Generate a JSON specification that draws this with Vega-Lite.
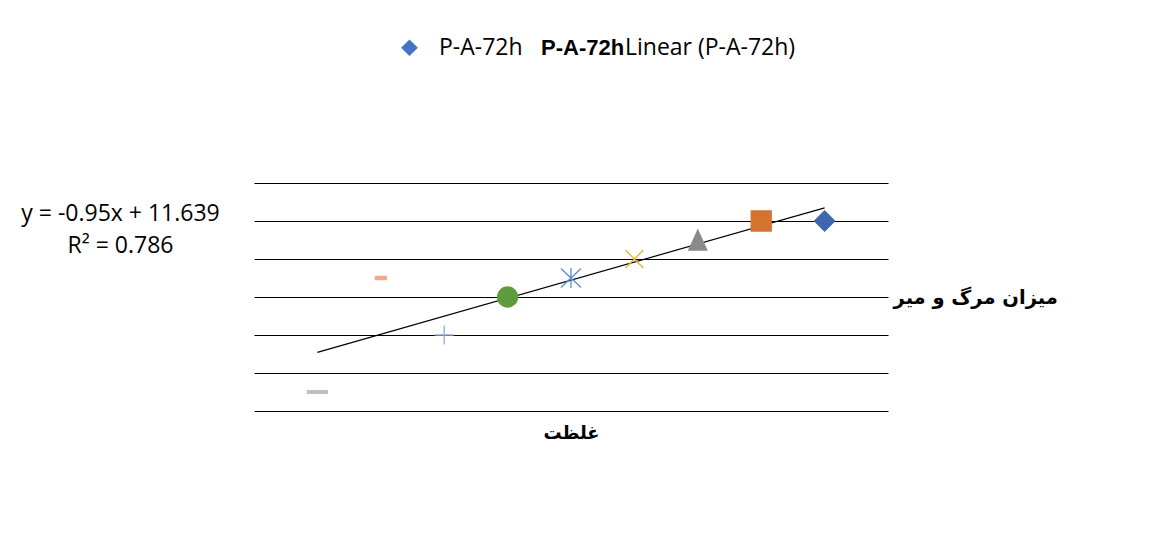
{
  "$schema": "https://vega.github.io/schema/vega-lite/v6.json",
  "width": 634,
  "height": 228,
  "autosize": "none",
  "padding": {"left": 254, "top": 183, "right": 264, "bottom": 135},
  "background": "white",
  "config": {"view": {"stroke": null}},
  "datasets": {
    "pts": [
      {"x": 9, "y": 1, "m": "dash_gray"},
      {"x": 8, "y": 7, "m": "dash_salmon"},
      {"x": 7, "y": 4, "m": "plus"},
      {"x": 6, "y": 6, "m": "circle"},
      {"x": 5, "y": 7, "m": "asterisk"},
      {"x": 4, "y": 8, "m": "cross_x"},
      {"x": 3, "y": 9, "m": "triangle"},
      {"x": 2, "y": 10, "m": "square"},
      {"x": 1, "y": 10, "m": "diamond"}
    ],
    "leg": [{"k": "a"}, {"k": "b"}, {"k": "c"}]
  },
  "layer": [
    {
      "data": {"name": "pts"},
      "transform": [{"regression": "y", "on": "x"}],
      "mark": {"type": "line", "color": "black", "strokeWidth": 1.2},
      "encoding": {
        "x": {"field": "x", "type": "quantitative", "scale": {"domain": [0, 10], "reverse": true, "nice": false, "zero": false},
          "axis": {"labels": false, "ticks": false, "domain": false, "grid": false, "title": "غلظت", "titleFont": "DejaVu Sans", "titleFontWeight": "bold", "titleFontSize": 18, "titleColor": "black", "titleBaseline": "middle", "titleY": 22}},
        "y": {"field": "y", "type": "quantitative", "scale": {"domain": [0, 12], "nice": false, "zero": false},
          "axis": {"orient": "right", "labels": false, "ticks": false, "domain": false, "grid": true, "values": [0, 2, 4, 6, 8, 10, 12], "gridColor": "black", "gridWidth": 1, "gridOpacity": 1,
            "title": "میزان مرگ و میر", "titleFont": "DejaVu Sans", "titleFontWeight": "bold", "titleFontSize": 19.5, "titleColor": "black", "titleAngle": 0, "titleAlign": "left", "titleBaseline": "middle", "titleX": 5, "titleY": 114}}
      }
    },
    {
      "data": {"name": "pts"},
      "mark": {"type": "point", "filled": true, "opacity": 1, "strokeWidth": 1.3, "size": 400},
      "encoding": {
        "x": {"field": "x", "type": "quantitative", "scale": {"domain": [0, 10], "reverse": true, "nice": false, "zero": false},
          "axis": {"labels": false, "ticks": false, "domain": false, "grid": false, "title": "غلظت", "titleFont": "DejaVu Sans", "titleFontWeight": "bold", "titleFontSize": 18, "titleColor": "black", "titleBaseline": "middle", "titleY": 22}},
        "y": {"field": "y", "type": "quantitative", "scale": {"domain": [0, 12], "nice": false, "zero": false},
          "axis": {"orient": "left", "labels": false, "ticks": false, "domain": false, "grid": false,
            "title": ["y = -0.95x + 11.639", "R² = 0.786"], "titleFont": "Open Sans", "titleFontWeight": "normal", "titleFontSize": 23, "titleLineHeight": 32, "titleColor": "black", "titleAngle": 0, "titleAlign": "center", "titleBaseline": "middle", "titleX": -134, "titleY": 30}},
        "shape": {"field": "m", "type": "nominal", "legend": null,
          "scale": {"domain": ["dash_gray", "dash_salmon", "plus", "circle", "asterisk", "cross_x", "triangle", "square", "diamond"],
            "range": ["M-1,-0.13H1V0.13H-1Z", "M-0.55,-0.15H0.55V0.15H-0.55Z", "M-0.95,0H0.95M0,-0.95V0.95", "circle", "M0,-1V1M-1,-0.95L1,0.95M-1,0.95L1,-0.95", "M-0.9,-0.9L0.9,0.9M-0.9,0.9L0.9,-0.9", "M0,-1L0.9,1H-0.9Z", "square", "diamond"]}},
        "fill": {"field": "m", "type": "nominal", "legend": null,
          "scale": {"domain": ["dash_gray", "dash_salmon", "plus", "circle", "asterisk", "cross_x", "triangle", "square", "diamond"],
            "range": ["#BFBFBF", "#F2A98A", "transparent", "#5E9B3D", "transparent", "transparent", "#8A8A8A", "#D5722E", "#3E67B1"]}},
        "stroke": {"field": "m", "type": "nominal", "legend": null,
          "scale": {"domain": ["dash_gray", "dash_salmon", "plus", "circle", "asterisk", "cross_x", "triangle", "square", "diamond"],
            "range": ["#BFBFBF", "#F2A98A", "#8FAADC", "#5E9B3D", "#5B8FCC", "#EBB22A", "#8A8A8A", "#D5722E", "#3E67B1"]}}
      }
    },
    {
      "data": {"name": "leg"},
      "mark": {"type": "point", "filled": true, "opacity": 0},
      "encoding": {
        "color": {"field": "k", "type": "nominal",
          "scale": {"domain": ["a", "b", "c"], "range": ["#4472C4", "#ffffff", "#ffffff"]},
          "legend": {"orient": "none", "legendX": 144, "legendY": -147, "direction": "horizontal", "title": null,
            "symbolType": "diamond", "symbolSize": 280, "symbolOpacity": 1, "symbolStrokeWidth": 0, "labelOffset": 18, "columnPadding": 0, "padding": 0,
            "labelFont": "Open Sans", "labelFontSize": 23, "labelColor": "black", "labelLimit": 400,
            "labelExpr": "datum.value === 'c' ? 'Linear (P-A-72h)' : 'P-A-72h'",
            "encode": {
              "symbols": {"update": {"opacity": {"signal": "datum.value === 'a' ? 1 : 0"}}},
              "labels": {"update": {
                "fontWeight": {"signal": "datum.value === 'b' ? 'bold' : 'normal'"},
                "font": {"signal": "datum.value === 'b' ? 'Liberation Sans' : 'Open Sans'"},
                "fontSize": {"signal": "datum.value === 'b' ? 22 : 23"},
                "dx": {"signal": "datum.value === 'c' ? -79 : datum.value === 'b' ? -23 : 0"}
              }}
            }}}
      }
    }
  ],
  "resolve": {"axis": {"y": "independent"}}
}
